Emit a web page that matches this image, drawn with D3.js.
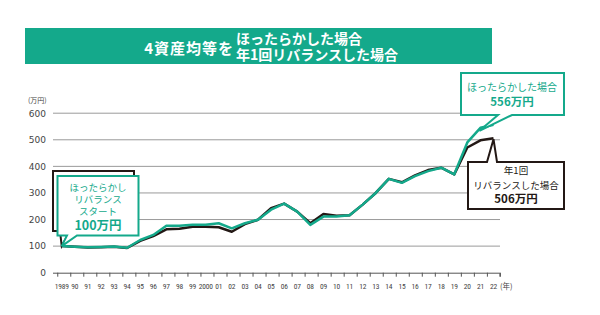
<!DOCTYPE html>
<html>
<head>
<meta charset="utf-8">
<script src="https://cdn.jsdelivr.net/npm/d3@7"></script>
<style>
  body { margin: 0; background: #fff; }
  svg { display: block; font-family: "Noto Sans CJK JP", "Noto Sans", sans-serif; }
</style>
</head>
<body>
<div id="chart"></div>
<script>
var years = d3.range(1989, 2023);
// ほったらかした場合
var holdValues = [100, 98, 96, 97, 99, 94, 123, 142, 177, 177, 180, 180, 186, 167, 186, 199, 237, 260, 230, 180,
                  211, 211, 216, 256, 300, 353, 338, 363, 382, 395, 370, 490, 545, 556];
// 年1回リバランスした場合
var rebalValues = [100, 98, 95, 96, 98, 93, 120, 138, 163, 165, 173, 173, 171, 154, 183, 199, 243, 260, 230, 186,
                   221, 214, 216, 256, 300, 353, 340, 366, 386, 395, 370, 471, 498, 506];
var yTicks = [0, 100, 200, 300, 400, 500, 600];
var yearLabels = years.map(function(y) {
    if (y === 1989 || y === 2000) return String(y);
    return String(y).slice(2);
});

var green = "#14a98b";
var W = 600, H = 315;

var svg = d3.select("#chart").append("svg")
    .attr("width", W)
    .attr("height", H);

// title banner
svg.append("rect")
    .attr("x", 25).attr("y", 28)
    .attr("width", 467).attr("height", 36)
    .style("fill", green);
svg.append("text")
    .attr("x", 234).attr("y", 54)
    .attr("text-anchor", "end")
    .style("fill", "#fff").style("font-size", "15px").style("font-weight", "bold")
    .style("letter-spacing", "1px")
    .text("4資産均等を");
svg.append("text")
    .attr("x", 236).attr("y", 44)
    .style("fill", "#fff").style("font-size", "14px").style("font-weight", "bold")
    .text("ほったらかした場合");
svg.append("text")
    .attr("x", 236).attr("y", 60)
    .style("fill", "#fff").style("font-size", "14px").style("font-weight", "bold")
    .text("年1回リバランスした場合");

// scales
var x = d3.scaleLinear().domain([1989, 2022]).range([61.7, 493.5]);
var y = d3.scaleLinear().domain([0, 600]).range([272.7, 113.2]);

// grid
var plot = svg.append("g");
plot.selectAll(".grid")
    .data(yTicks.slice(1))
    .enter().append("line")
    .attr("x1", 53).attr("x2", 500)
    .attr("y1", function(d) { return y(d); })
    .attr("y2", function(d) { return y(d); })
    .style("stroke", "#9a9a9a").style("stroke-width", 1);

// y labels
plot.selectAll(".ylab")
    .data(yTicks)
    .enter().append("text")
    .attr("x", 46)
    .attr("y", function(d) { return y(d) + 3.3; })
    .attr("text-anchor", "end")
    .style("font-family", "'DejaVu Sans', sans-serif")
    .style("font-size", "9px").style("fill", "#444")
    .text(function(d) { return d; });
svg.append("text")
    .attr("x", 28).attr("y", 103)
    .style("font-size", "7px").style("fill", "#444")
    .text("(万円)");

// x axis
var tickVals = d3.range(35).map(function(k) { return 1988.66 + k * 0.995; });
var xAxis = svg.append("g")
    .attr("transform", "translate(0," + y(0) + ")")
    .call(d3.axisBottom(x).tickValues(tickVals).tickSize(4).tickFormat(""));
xAxis.select(".domain").attr("d", "M53,0.5H" + x(tickVals[34]) + "V4").style("stroke", "#555");
xAxis.selectAll(".tick line").style("stroke", "#555");

svg.append("g").selectAll(".xlab")
    .data(years)
    .enter().append("text")
    .attr("x", function(d) { return x(d); })
    .attr("y", 289)
    .attr("text-anchor", "middle")
    .style("font-family", "'Liberation Sans Narrow', 'Roboto Condensed', sans-serif")
    .style("font-size", "7.5px").style("fill", "#444")
    .style("letter-spacing", "-0.2px")
    .text(function(d, i) { return yearLabels[i]; });
svg.append("text")
    .attr("x", 500).attr("y", 289)
    .style("font-size", "7.5px").style("fill", "#444")
    .text("(年)");

// lines
var line = d3.line()
    .x(function(d, i) { return x(years[i]); })
    .y(function(d) { return y(d); });
svg.append("path").datum(rebalValues)
    .attr("d", line)
    .style("fill", "none").style("stroke", "#231815").style("stroke-width", 2.5)
    .style("stroke-linejoin", "round");
svg.append("path").datum(holdValues)
    .attr("d", line)
    .style("fill", "none").style("stroke", green).style("stroke-width", 2.5)
    .style("stroke-linejoin", "round");

// callouts
function callout(pts, color) {
    svg.append("path")
        .attr("d", "M" + pts.join("L") + "Z")
        .style("fill", "#fff").style("stroke", color).style("stroke-width", 2)
        .style("stroke-linejoin", "miter");
}
function label(cx, cy, txt, size, color, bold) {
    svg.append("text")
        .attr("x", cx).attr("y", cy)
        .attr("text-anchor", "middle")
        .style("font-size", size + "px").style("fill", color)
        .style("font-weight", bold ? "bold" : "normal")
        .text(txt);
}

var startX = x(1989), startY = y(holdValues[0]);
// left: black box behind, green box in front
callout([[53, 171], [134, 171], [134, 231], [70, 231], [startX, startY], [60, 231], [53, 231]], "#231815");
callout([[57.5, 176], [138.5, 176], [138.5, 235.5], [77, 235.5], [startX, startY], [67, 235.5], [57.5, 235.5]], green);
label(98, 190.5, "ほったらかし", 9.5, green, false);
label(98, 202.5, "リバランス", 9.5, green, false);
label(98, 214.5, "スタート", 9.5, green, false);
label(98, 230, "100万円", 12.5, green, true);

// top right green
var endG = [x(2021) - 1, y(holdValues[32]) + 3];
callout([[461, 73], [564, 73], [564, 115], [512, 115], endG, [498, 115], [461, 115]], green);
label(512, 91, "ほったらかした場合", 10, green, false);
label(512, 105.5, "556万円", 11.5, green, true);

// black rebalance
var endB = [x(2022), y(rebalValues[33]) + 1];
callout([[468, 162], [487, 162], endB, [497, 162], [564, 162], [564, 209], [468, 209], [468, 162]], "#231815");
label(516, 174, "年1回", 9.5, "#231815", false);
label(516, 189, "リバランスした場合", 9.5, "#231815", false);
label(516, 203, "506万円", 11.5, "#231815", true);
</script>
</body>
</html>
